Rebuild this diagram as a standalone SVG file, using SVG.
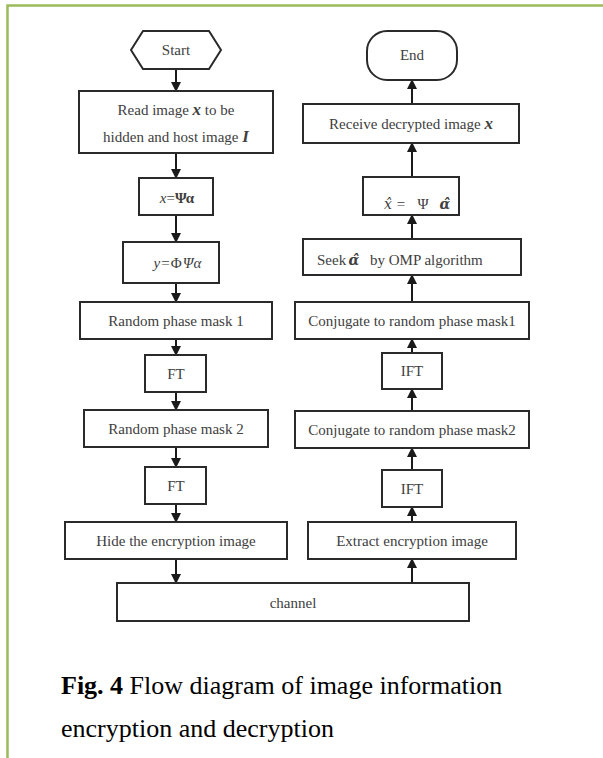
<svg xmlns="http://www.w3.org/2000/svg" width="603" height="758" viewBox="0 0 603 758">
<style>
.b{fill:#fff;stroke:#2a2a2a;stroke-width:2}
.t{font-family:"Liberation Serif","Times New Roman",serif;font-size:15px;fill:#404040;text-anchor:middle}
.s{text-anchor:start}
.m{font-weight:bold;font-style:italic}
.g{font-family:"DejaVu Serif",serif;font-weight:bold;font-style:italic;font-size:14px}
.c{stroke:#1a1a1a;stroke-width:2;fill:none}
.cap{font-family:"Liberation Serif","Times New Roman",serif;font-size:26px;fill:#000}
</style>
<defs>
<marker id="ah" viewBox="0 0 10 10" refX="9" refY="5" markerWidth="5" markerHeight="5" orient="auto" markerUnits="strokeWidth">
<path d="M0,0 L10,5 L0,10 z" fill="#1a1a1a"/>
</marker>
</defs>
<rect width="603" height="758" fill="#fff"/>
<path d="M7.5,758 V5.5 H603" fill="none" stroke="#9bbb59" stroke-width="2.5"/>

<g id="connectors">
<line class="c" x1="176" y1="69" x2="176" y2="91" marker-end="url(#ah)"/>
<line class="c" x1="176" y1="153" x2="176" y2="178" marker-end="url(#ah)"/>
<line class="c" x1="176" y1="215" x2="176" y2="242" marker-end="url(#ah)"/>
<line class="c" x1="176" y1="283" x2="176" y2="302" marker-end="url(#ah)"/>
<line class="c" x1="176" y1="339" x2="176" y2="355" marker-end="url(#ah)"/>
<line class="c" x1="176" y1="392" x2="176" y2="410" marker-end="url(#ah)"/>
<line class="c" x1="176" y1="447" x2="176" y2="467" marker-end="url(#ah)"/>
<line class="c" x1="176" y1="504" x2="176" y2="522" marker-end="url(#ah)"/>
<line class="c" x1="176" y1="559" x2="176" y2="583" marker-end="url(#ah)"/>
<line class="c" x1="412" y1="583" x2="412" y2="559" marker-end="url(#ah)"/>
<line class="c" x1="412" y1="522" x2="412" y2="507" marker-end="url(#ah)"/>
<line class="c" x1="412" y1="470" x2="412" y2="448" marker-end="url(#ah)"/>
<line class="c" x1="412" y1="411" x2="412" y2="389" marker-end="url(#ah)"/>
<line class="c" x1="412" y1="353" x2="412" y2="339" marker-end="url(#ah)"/>
<line class="c" x1="412" y1="302" x2="412" y2="275" marker-end="url(#ah)"/>
<line class="c" x1="412" y1="239" x2="412" y2="215" marker-end="url(#ah)"/>
<line class="c" x1="412" y1="177" x2="412" y2="143" marker-end="url(#ah)"/>
<line class="c" x1="412" y1="104" x2="412" y2="80" marker-end="url(#ah)"/>
</g>

<g id="start">
<polygon class="b" points="131,50 143,31 209,31 221,50 209,69 143,69"/>
<text class="t" x="176" y="55">Start</text>
</g>
<g id="read">
<rect class="b" x="79" y="91" width="194" height="62"/>
<text class="t" x="176" y="115">Read image <tspan class="m" font-size="17">x</tspan> to be</text>
<text class="t" x="176" y="142">hidden and host image <tspan class="m" font-size="17">I</tspan></text>
</g>
<g id="sparse">
<rect class="b" x="139" y="178" width="74" height="37"/>
<text class="t" x="177" y="203" font-size="16"><tspan font-style="italic">x</tspan>=<tspan font-weight="bold">Ψα</tspan></text>
</g>
<g id="measure">
<rect class="b" x="123" y="242" width="96" height="41"/>
<text class="t" x="178" y="268" font-size="19" letter-spacing="1"><tspan font-style="italic">y</tspan>=Φ<tspan font-style="italic">Ψα</tspan></text>
</g>
<g id="rpm1">
<rect class="b" x="80" y="302" width="192" height="37"/>
<text class="t" x="176" y="326">Random phase mask 1</text>
</g>
<g id="ft1">
<rect class="b" x="145" y="355" width="61" height="37"/>
<text class="t" x="176" y="379">FT</text>
</g>
<g id="rpm2">
<rect class="b" x="84" y="410" width="184" height="37"/>
<text class="t" x="176" y="434">Random phase mask 2</text>
</g>
<g id="ft2">
<rect class="b" x="145" y="467" width="61" height="37"/>
<text class="t" x="176" y="491">FT</text>
</g>
<g id="hide">
<rect class="b" x="65" y="522" width="222" height="37"/>
<text class="t" x="176" y="546">Hide the encryption image</text>
</g>
<g id="channel">
<rect class="b" x="117" y="583" width="352" height="38"/>
<text class="t" x="293" y="608">channel</text>
</g>

<g id="end">
<rect class="b" x="367" y="31" width="90" height="49" rx="20" ry="20"/>
<text class="t" x="412" y="60">End</text>
</g>
<g id="receive">
<rect class="b" x="303" y="104" width="216" height="39"/>
<text class="t" x="411" y="129">Receive decrypted image <tspan class="m" font-size="17">x</tspan></text>
</g>
<g id="reconstruct">
<rect class="b" x="363" y="177" width="96" height="38"/>
<text class="t" font-size="16"><tspan x="388" y="209" font-family="DejaVu Serif, serif" font-style="italic" font-size="14">x̂</tspan><tspan x="401" y="209">=</tspan><tspan x="423" y="209">Ψ</tspan><tspan x="445" y="209" class="g">α̂</tspan></text>
</g>
<g id="seek">
<rect class="b" x="303" y="239" width="218" height="36"/>
<text class="t s"><tspan x="317" y="265">Seek</tspan><tspan x="354" y="265" class="g" text-anchor="middle">α̂</tspan><tspan x="370" y="265">by OMP algorithm</tspan></text>
</g>
<g id="conj1">
<rect class="b" x="295" y="302" width="234" height="37"/>
<text class="t" x="412" y="326">Conjugate to random phase mask1</text>
</g>
<g id="ift1">
<rect class="b" x="382" y="353" width="60" height="36"/>
<text class="t" x="412" y="376">IFT</text>
</g>
<g id="conj2">
<rect class="b" x="295" y="411" width="234" height="37"/>
<text class="t" x="412" y="435">Conjugate to random phase mask2</text>
</g>
<g id="ift2">
<rect class="b" x="382" y="470" width="60" height="37"/>
<text class="t" x="412" y="494">IFT</text>
</g>
<g id="extract">
<rect class="b" x="308" y="522" width="208" height="37"/>
<text class="t" x="412" y="546">Extract encryption image</text>
</g>

<g id="caption">
<text class="cap" x="61" y="694"><tspan font-weight="bold">Fig. 4</tspan> Flow diagram of image information</text>
<text class="cap" x="61" y="737">encryption and decryption</text>
</g>
</svg>
